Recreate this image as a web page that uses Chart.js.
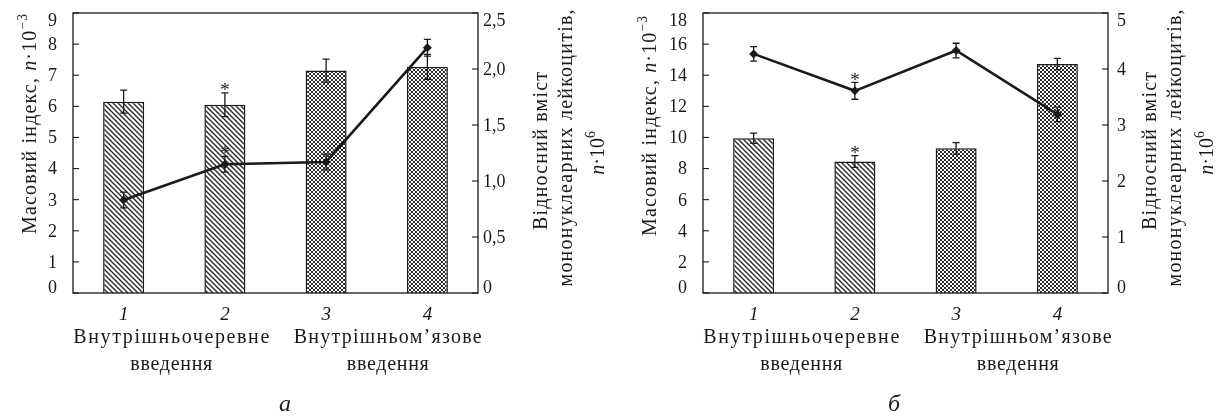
<!DOCTYPE html>
<html><head><meta charset="utf-8">
<script src="https://cdn.jsdelivr.net/npm/chart.js@4.4.0/dist/chart.umd.min.js"></script>
<style>
html,body{margin:0;padding:0;background:#fff;width:1218px;height:418px;overflow:hidden}
canvas{position:absolute;top:0}
#ca{left:0}#cb{left:609px}
#txt{position:absolute;left:0;top:0;width:1218px;height:418px;z-index:2;pointer-events:none}
.t{position:absolute;white-space:nowrap;font-family:"Liberation Serif",serif;color:#1a1a1a;margin:0;padding:0}
</style></head>
<body>
<canvas id="ca" width="609" height="418"></canvas>
<canvas id="cb" width="609" height="418"></canvas>
<div id="txt"></div>
<script>
// ---------- data ----------
const categories = ['1','2','3','4'];
const groupLabels = [['Внутрішньочеревне','введення'],['Внутрішньом’язове','введення']];

// panel а
const massIndexA   = [6.15, 6.05, 7.15, 7.27];
const massErrA     = [0.37, 0.38, 0.37, 0.40];
const leukoA       = [0.83, 1.15, 1.17, 2.19];
const leukoErrA    = [0.07, 0.07, 0.07, 0.075];
const yTicksA      = ['0','1','2','3','4','5','6','7','8','9'];
const y2TicksA     = ['0','0,5','1,0','1,5','2,0','2,5'];

// panel б
const massIndexB   = [9.95, 8.45, 9.30, 14.72];
const massErrB     = [0.33, 0.38, 0.37, 0.36];
const leukoB       = [4.27, 3.61, 4.33, 3.19];
const leukoErrB    = [0.13, 0.15, 0.13, 0.13];
const yTicksB      = ['0','2','4','6','8','10','12','14','16','18'];
const y2TicksB     = ['0','1','2','3','4','5'];

// significance marks (*)
const starBar  = [false, true, false, false];
const starLine = [false, true, false, false];

const leftTitle  = [{t:'Масовий індекс, '},{t:'n',it:1},{t:'·10'},{t:'−3',sup:1}];
const rightTitle = [[{t:'Відносний вміст'}],[{t:'мононуклеарних лейкоцитів,'}],[{t:'n',it:1},{t:'·10'},{t:'6',sup:1}]];

// ---------- helpers ----------
const INK = '#1a1a1a';
const layer = document.getElementById('txt');

function hatchPattern(ctx){
  const p=5, c=document.createElement('canvas'); c.width=p; c.height=p;
  const g=c.getContext('2d'); g.fillStyle='#fff'; g.fillRect(0,0,p,p);
  g.strokeStyle='#2a2a2a'; g.lineWidth=1.4; g.beginPath();
  g.moveTo(-1,-1); g.lineTo(p+1,p+1);
  g.moveTo(-1,p-1); g.lineTo(1,p+1);
  g.moveTo(p-1,-1); g.lineTo(p+1,1);
  g.stroke();
  return ctx.createPattern(c,'repeat');
}
function crossPattern(ctx){
  const p=4, c=document.createElement('canvas'); c.width=p; c.height=p;
  const g=c.getContext('2d'); g.fillStyle='#fff'; g.fillRect(0,0,p,p);
  g.strokeStyle='#2a2a2a'; g.lineWidth=1.0; g.beginPath();
  g.moveTo(-1,-1); g.lineTo(p+1,p+1);
  g.moveTo(-1,p-1); g.lineTo(1,p+1);
  g.moveTo(p-1,-1); g.lineTo(p+1,1);
  g.moveTo(-1,p+1); g.lineTo(p+1,-1);
  g.moveTo(-1,1); g.lineTo(1,-1);
  g.moveTo(p-1,p+1); g.lineTo(p+1,p-1);
  g.stroke();
  return ctx.createPattern(c,'repeat');
}

// real-text overlay; y = baseline (horizontal) or x-height centre column (rotated)
function addText(segs, size, o){
  const el=document.createElement('div');
  el.className='t';
  el.style.fontSize=size+'px'; el.style.lineHeight=size+'px';
  segs.forEach(s=>{
    const sp=document.createElement('span'); sp.textContent=s.t;
    if(s.it) sp.style.fontStyle='italic';
    if(s.sup){ sp.style.fontSize='68%'; sp.style.position='relative'; sp.style.top='-0.69em'; sp.style.lineHeight='0'; }
    el.appendChild(sp);
  });
  layer.appendChild(el);
  const w=el.getBoundingClientRect().width;
  const n=segs.reduce((a,s)=>a+[...s.t].length,0);
  let ls=0;
  if(o.target){ ls=(o.target-w)/Math.max(1,n-1); el.style.letterSpacing=ls.toFixed(2)+'px'; }
  const ink=w+ls*(n-1);
  if(o.rot){
    const bx=o.x-0.1075*size;
    el.style.left=(bx-ink/2)+'px'; el.style.top=(o.y-size/2)+'px';
    el.style.transformOrigin=(ink/2)+'px '+(size/2)+'px';
    el.style.transform='rotate(-90deg)';
  } else {
    const left = o.align==='right' ? o.x-ink : o.align==='left' ? o.x : o.x-ink/2;
    el.style.left=left+'px'; el.style.top=(o.y-0.8375*size)+'px';
  }
}

function makeDecor(spec){
  return {
    id:'decor'+spec.name,
    afterDraw(chart){
      const ctx=chart.ctx, ca=chart.chartArea;
      const ys=chart.scales.y, y2=chart.scales.y2;
      const mBar=chart.getDatasetMeta(1), mLine=chart.getDatasetMeta(0);
      ctx.save();
      ctx.strokeStyle=INK;
      const err=(x,yt,yb)=>{
        ctx.beginPath(); ctx.lineWidth=1.3;
        ctx.moveTo(x,yt); ctx.lineTo(x,yb);
        ctx.moveTo(x-3.5,yt); ctx.lineTo(x+3.5,yt);
        ctx.moveTo(x-3.5,yb); ctx.lineTo(x+3.5,yb);
        ctx.stroke();
      };
      spec.bar.forEach((v,i)=>err(mBar.data[i].x, ys.getPixelForValue(v+spec.barErr[i]), ys.getPixelForValue(v-spec.barErr[i])));
      spec.line.forEach((v,i)=>err(mLine.data[i].x, y2.getPixelForValue(v+spec.lineErr[i]), y2.getPixelForValue(v-spec.lineErr[i])));
      ctx.lineWidth=1.3; ctx.strokeRect(ca.left, ca.top, ca.right-ca.left, ca.bottom-ca.top);
      ctx.lineWidth=1.1;
      ys.ticks.forEach(t=>{ const y=ys.getPixelForValue(t.value); ctx.beginPath(); ctx.moveTo(ca.left,y); ctx.lineTo(ca.left+6,y); ctx.stroke(); });
      y2.ticks.forEach(t=>{ const y=y2.getPixelForValue(t.value); ctx.beginPath(); ctx.moveTo(ca.right-6,y); ctx.lineTo(ca.right,y); ctx.stroke(); });
      ctx.restore();
    }
  };
}

function build(id, spec){
  const cv=document.getElementById(id), ctx=cv.getContext('2d');
  const hatch=hatchPattern(ctx), cross=crossPattern(ctx);
  return new Chart(ctx,{
    type:'bar',
    data:{labels:categories, datasets:[
      {type:'line', data:spec.line, yAxisID:'y2', borderColor:INK, borderWidth:2.6,
       pointStyle:'rectRot', pointRadius:4.5, pointBackgroundColor:INK, pointBorderColor:INK, pointBorderWidth:0, order:0, tension:0},
      {type:'bar', data:spec.bar, yAxisID:'y', backgroundColor:[hatch,hatch,cross,cross],
       borderColor:INK, borderWidth:1.5, barPercentage:0.405, categoryPercentage:1, order:1}
    ]},
    options:{
      responsive:false, animation:false, events:[],
      layout:{padding:{top:13,left:0,right:0,bottom:0}},
      plugins:{legend:{display:false}, tooltip:{enabled:false}},
      scales:{
        x:{grid:{display:false,drawTicks:false}, border:{display:false}, ticks:{display:false},
           afterFit(s){s.height=125;}},
        y:{position:'left', min:0, max:spec.yMax, ticks:{display:false, stepSize:spec.yStep},
           grid:{display:false,drawTicks:false}, border:{display:false}, afterFit(s){s.width=spec.yW;}},
        y2:{position:'right', min:0, max:spec.y2Max, ticks:{display:false, stepSize:spec.y2Step},
           grid:{display:false,drawTicks:false}, border:{display:false}, afterFit(s){s.width=spec.y2W;}}
      }
    },
    plugins:[makeDecor(spec)]
  });
}

function labels(chart, spec, ox){
  const ca=chart.chartArea, ys=chart.scales.y, y2=chart.scales.y2;
  const mBar=chart.getDatasetMeta(1), mLine=chart.getDatasetMeta(0);
  const clampY=y=>Math.min(ca.bottom-5.5, Math.max(ca.top+7.5, y));
  ys.ticks.forEach((t,i)=>addText([{t:spec.yTicks[i]}],18,{x:ox+ca.left-16, y:clampY(ys.getPixelForValue(t.value))+6, align:'right'}));
  y2.ticks.forEach((t,i)=>addText([{t:spec.y2Ticks[i]}],18,{x:ox+ca.right+spec.y2Pad, y:clampY(y2.getPixelForValue(t.value))+6, align:'left'}));
  categories.forEach((c,i)=>addText([{t:c,it:1}],19,{x:ox+mBar.data[i].x, y:320}));
  // asterisks above error bars
  spec.bar.forEach((v,i)=>{ if(starBar[i]) addText([{t:'*'}],19,{x:ox+mBar.data[i].x, y:ys.getPixelForValue(v+spec.barErr[i])+3}); });
  spec.line.forEach((v,i)=>{ if(starLine[i]) addText([{t:'*'}],19,{x:ox+mLine.data[i].x, y:y2.getPixelForValue(v+spec.lineErr[i])+3}); });
  const g1=ox+(mBar.data[0].x+mBar.data[1].x)/2-3, g2=ox+(mBar.data[2].x+mBar.data[3].x)/2+11;
  addText([{t:groupLabels[0][0]}],20,{x:g1,y:343,target:196});
  addText([{t:groupLabels[0][1]}],20,{x:g1,y:370,target:82});
  addText([{t:groupLabels[1][0]}],20,{x:g2,y:343,target:188});
  addText([{t:groupLabels[1][1]}],20,{x:g2,y:370,target:82});
  addText(leftTitle,20,{x:ox+spec.ltX,y:spec.ltY,rot:1,target:220});
  addText(rightTitle[0],20,{x:ox+542,y:151,rot:1,target:158});
  addText(rightTitle[1],20,{x:ox+567,y:148,rot:1,target:277});
  addText(rightTitle[2],20,{x:ox+599,y:153,rot:1});
  addText([{t:spec.panel,it:1}],24,{x:ox+285,y:411});
}

const specA={name:'a', bar:massIndexA, barErr:massErrA, line:leukoA, lineErr:leukoErrA,
  yTicks:yTicksA, y2Ticks:y2TicksA, yMax:9, yStep:1, y2Max:2.5, y2Step:0.5,
  yW:73, y2W:131, y2Pad:5, ltX:31, ltY:124, panel:'а'};
const specB={name:'b', bar:massIndexB, barErr:massErrB, line:leukoB, lineErr:leukoErrB,
  yTicks:yTicksB, y2Ticks:y2TicksB, yMax:18, yStep:2, y2Max:5, y2Step:1,
  yW:94, y2W:110, y2Pad:9, ltX:42, ltY:126, panel:'б'};
const chA=build('ca',specA), chB=build('cb',specB);
labels(chA,specA,0);
labels(chB,specB,609);
</script>
</body></html>
